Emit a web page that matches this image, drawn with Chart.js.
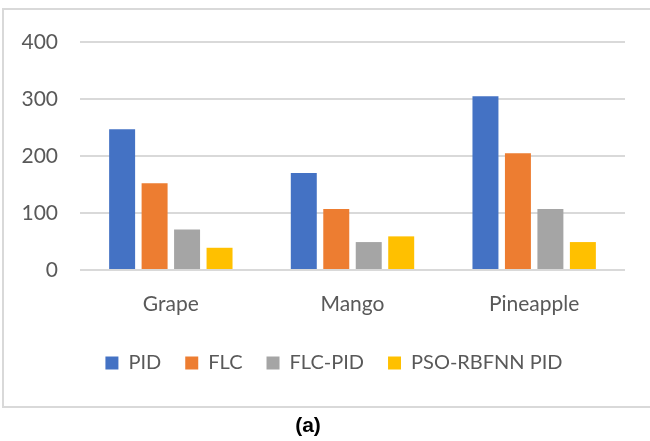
<!DOCTYPE html>
<html>
<head>
<meta charset="utf-8">
<script src="https://cdn.jsdelivr.net/npm/chart.js@4/dist/chart.umd.min.js"></script>
<style>
  html, body { margin: 0; padding: 0; background: #fff; overflow: hidden; }
  body { width: 650px; height: 441px; position: relative; }
  #frame {
    position: absolute; left: 2px; top: 8px; width: 720px; height: 400px;
    border: 2px solid #d9d9d9; border-right: none; box-sizing: border-box;
  }
  #wrap { position: absolute; left: 0; top: 0; width: 650px; height: 441px; }
  #caption {
    position: absolute; left: 258px; width: 100px; top: 413px; text-align: center;
    font-family: "Liberation Sans", Arial, sans-serif; font-weight: bold; font-size: 21px; color: #000;
  }
</style>
</head>
<body>
<div id="frame"></div>
<div id="wrap"><canvas id="chart" width="650" height="441"></canvas></div>
<div id="caption">(a)</div>
<script>
// Fruit categories and controller results
const categories = ["Grape", "Mango", "Pineapple"];
const pidValues = [247, 170, 305];
const flcValues = [152, 107, 205];
const flcPidValues = [71, 49, 107];
const psoRbfnnPidValues = [39, 59, 49];
const yTicks = [0, 100, 200, 300, 400];

const seriesNames = ["PID", "FLC", "FLC-PID", "PSO-RBFNN PID"];
const seriesColors = ["#4472C4", "#ED7D31", "#A5A5A5", "#FFC000"];
const seriesValues = [pidValues, flcValues, flcPidValues, psoRbfnnPidValues];

const textColor = "#595959";
const fontFamily = "Lato, 'Open Sans', sans-serif";

const datasets = seriesNames.map((name, i) => ({
  label: name,
  data: seriesValues[i],
  backgroundColor: seriesColors[i],
  borderWidth: 0,
  categoryPercentage: 0.715,
  barPercentage: 0.8
}));

// Nudge the legend row a little to the right of the plot centre
const legendShift = {
  id: "legendShift",
  afterLayout(chart) {
    const lg = chart.legend;
    if (lg) { lg.left += 12; lg.right += 12; }
  }
};

new Chart(document.getElementById("chart"), {
  type: "bar",
  data: { labels: categories, datasets },
  plugins: [legendShift],
  options: {
    responsive: false,
    animation: false,
    devicePixelRatio: 1,
    layout: { padding: { left: 19, right: 25, top: 42, bottom: 58 } },
    plugins: {
      tooltip: { enabled: false },
      legend: {
        position: "bottom",
        labels: {
          boxWidth: 13,
          boxHeight: 13,
          padding: 24,
          color: textColor,
          font: { family: fontFamily, size: 20 }
        }
      }
    },
    scales: {
      x: {
        grid: { display: false, drawTicks: false },
        border: { display: false },
        ticks: { color: textColor, padding: 22, font: { family: fontFamily, size: 21 } },
        afterFit: (scale) => { scale.height = 59; }
      },
      y: {
        min: 0,
        max: 400,
        afterBuildTicks: (scale) => { scale.ticks = yTicks.map(v => ({ value: v })); },
        grid: { color: "#d9d9d9", lineWidth: 2, drawTicks: false },
        border: { display: false },
        ticks: { color: textColor, padding: 22, font: { family: fontFamily, size: 21 } },
        afterFit: (scale) => { scale.width = 61; }
      }
    }
  }
});
</script>
</body>
</html>
